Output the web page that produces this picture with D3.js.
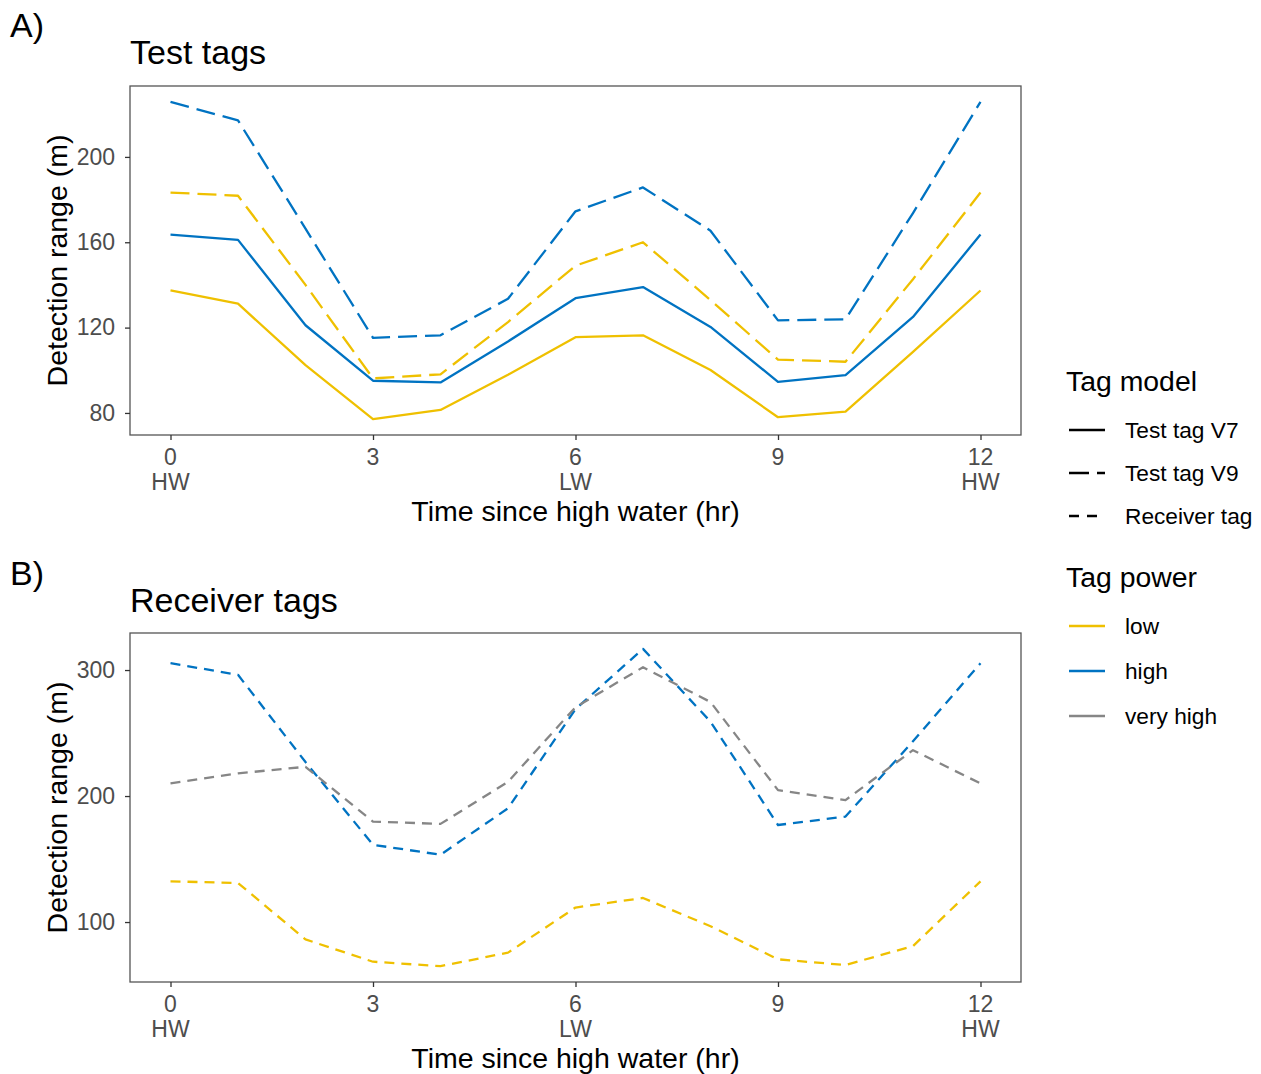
<!DOCTYPE html>
<html><head><meta charset="utf-8">
<script src="https://cdn.jsdelivr.net/npm/d3@7"></script>
<style>body{margin:0;background:#fff}text{font-family:"Liberation Sans",Arial,sans-serif}</style>
</head><body>
<svg id="c" width="1261" height="1074"></svg>
<script>
const hours = [0,1,2,3,4,5,6,7,8,9,10,11,12];
const xTicks = [0,3,6,9,12];
const xTickLabels = ["0\nHW","3","6\nLW","9","12\nHW"];
// Panel A: test tags
const v7Low  = [137.4,131.2,102.4,77.1,81.4,97.9,115.5,116.4,100.1,78.0,80.6,108.6,137.4];
const v7High = [163.6,161.1,121.1,95.1,94.3,113.5,133.8,139.0,120.3,94.6,97.7,125.0,163.6];
const v9Low  = [183.3,181.8,140.0,96.2,98.1,122.6,149.0,160.0,132.9,105.0,104.0,142.7,183.3];
const v9High = [225.8,217.1,166.4,115.2,116.4,133.5,174.5,185.7,165.4,123.4,123.9,173.7,225.8];
const yTicksA = [80,120,160,200];
// Panel B: receiver tags
const rxLow      = [132.3,131.0,86.2,68.5,65.0,75.7,111.5,119.1,96.7,70.4,65.9,80.9,132.3];
const rxHigh     = [305.4,296.2,227.0,161.3,153.4,190.3,269.0,316.8,259.0,177.0,183.7,243.5,305.4];
const rxVeryHigh = [210.0,218.0,223.2,179.7,177.9,211.3,270.5,302.2,274.6,204.7,196.8,236.4,210.0];
const yTicksB = [100,200,300];

const modelNames = ["Test tag V7","Test tag V9","Receiver tag"];
const powerNames = ["low","high","very high"];
const colors = {"low":"#EFC000","high":"#0073C2","very high":"#868686"};
const dashes = {"Test tag V7":null,"Test tag V9":"19,8","Receiver tag":"10,7"};
const legendDash = {"Test tag V7":null,"Test tag V9":"20,8","Receiver tag":"10,8"};

const svg = d3.select("#c");

function panel(o){
  const {left,right,top,bottom,series,yTicks,title,tag,tagY,titleY} = o;
  const allV = series.flatMap(s=>s.values);
  const ext = d3.extent(allV), pad=(ext[1]-ext[0])*0.05;
  const x = d3.scaleLinear().domain([-0.6,12.6]).range([left,right]);
  const y = d3.scaleLinear().domain([ext[0]-pad, ext[1]+pad]).range([bottom,top]);
  const g = svg.append("g");
  g.append("text").attr("x",10).attr("y",tagY).attr("font-size",34).attr("fill","#000").text(tag);
  g.append("text").attr("x",130).attr("y",titleY).attr("font-size",34).attr("fill","#000").text(title);
  const line = d3.line().x((d,i)=>x(hours[i])).y(d=>y(d));
  series.forEach(s=>{
    g.append("path").attr("d",line(s.values)).attr("fill","none")
     .attr("stroke",colors[s.power]).attr("stroke-width",2.3)
     .attr("stroke-dasharray",dashes[s.model]).attr("stroke-linejoin","round");
  });
  g.append("rect").attr("x",left).attr("y",top).attr("width",right-left).attr("height",bottom-top)
   .attr("fill","none").attr("stroke","#555").attr("stroke-width",1.3);
  // axes
  const xa = g.append("g").attr("transform",`translate(0,${bottom})`)
    .call(d3.axisBottom(x).tickValues(xTicks).tickSize(5).tickFormat(""));
  xa.select(".domain").remove();
  xa.selectAll(".tick line").attr("stroke","#333").attr("stroke-width",1.3);
  xTicks.forEach((t,i)=>{
    const lines = xTickLabels[i].split("\n");
    lines.forEach((l,j)=>{
      g.append("text").attr("x",x(t)).attr("y",bottom+30+j*25).attr("text-anchor","middle")
       .attr("font-size",23).attr("fill","#4D4D4D").text(l);
    });
  });
  const ya = g.append("g").attr("transform",`translate(${left},0)`)
    .call(d3.axisLeft(y).tickValues(yTicks).tickSize(5).tickPadding(10));
  ya.select(".domain").remove();
  ya.selectAll(".tick line").attr("stroke","#333").attr("stroke-width",1.3);
  ya.selectAll(".tick text").attr("font-size",23).attr("fill","#4D4D4D")
    .attr("font-family","Liberation Sans, Arial, sans-serif");
  g.append("text").attr("x",(left+right)/2).attr("y",bottom+86).attr("text-anchor","middle")
   .attr("font-size",28.5).attr("fill","#000").text("Time since high water (hr)");
  g.append("text").attr("transform",`translate(67,${(top+bottom)/2}) rotate(-90)`)
   .attr("text-anchor","middle").attr("font-size",28.5).attr("fill","#000").text("Detection range (m)");
}

panel({left:130,right:1021,top:86,bottom:435,yTicks:yTicksA,title:"Test tags",tag:"A)",tagY:37,titleY:64,
  series:[{model:"Test tag V7",power:"low",values:v7Low},{model:"Test tag V7",power:"high",values:v7High},
          {model:"Test tag V9",power:"low",values:v9Low},{model:"Test tag V9",power:"high",values:v9High}]});
panel({left:130,right:1021,top:633,bottom:982,yTicks:yTicksB,title:"Receiver tags",tag:"B)",tagY:585,titleY:612,
  series:[{model:"Receiver tag",power:"low",values:rxLow},{model:"Receiver tag",power:"high",values:rxHigh},
          {model:"Receiver tag",power:"very high",values:rxVeryHigh}]});

// legends
const lg = svg.append("g");
lg.append("text").attr("x",1066).attr("y",391).attr("font-size",28.4).attr("fill","#000").text("Tag model");
modelNames.forEach((m,i)=>{
  const yy = 430 + i*43;
  lg.append("line").attr("x1",1069).attr("x2",1105).attr("y1",yy).attr("y2",yy)
    .attr("stroke","#000").attr("stroke-width",2.3).attr("stroke-dasharray",legendDash[m]);
  lg.append("text").attr("x",1125).attr("y",yy+8).attr("font-size",22.7).attr("fill","#000").text(m);
});
lg.append("text").attr("x",1066).attr("y",587).attr("font-size",28.4).attr("fill","#000").text("Tag power");
powerNames.forEach((p,i)=>{
  const yy = 626 + i*45;
  lg.append("line").attr("x1",1069).attr("x2",1105).attr("y1",yy).attr("y2",yy)
    .attr("stroke",colors[p]).attr("stroke-width",2.3);
  lg.append("text").attr("x",1125).attr("y",yy+8).attr("font-size",22.7).attr("fill","#000").text(p);
});
</script>
</body></html>
